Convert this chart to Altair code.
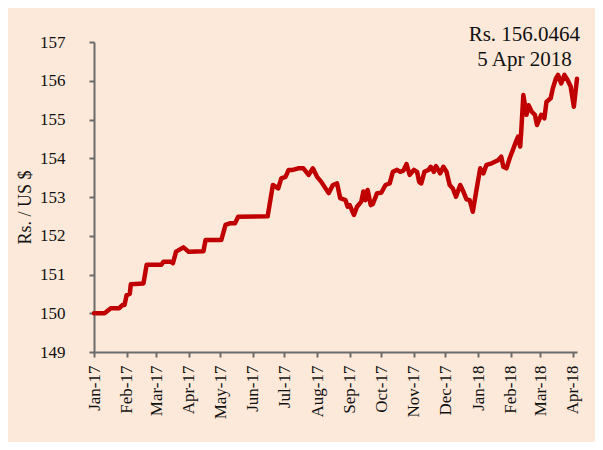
import altair as alt
import pandas as pd

# Daily Rs./US$ rate
dates = [
    "2017-01-01", "2017-01-11", "2017-01-17", "2017-01-25", "2017-01-28", "2017-01-30",
    "2017-02-01", "2017-02-04", "2017-02-05", "2017-02-17", "2017-02-20", "2017-03-06",
    "2017-03-08", "2017-03-15", "2017-03-17", "2017-03-20", "2017-03-27", "2017-04-01",
    "2017-04-15", "2017-04-17", "2017-05-02", "2017-05-06", "2017-05-10", "2017-05-15",
    "2017-05-18", "2017-06-15", "2017-06-20", "2017-06-25", "2017-06-28", "2017-07-02",
    "2017-07-05", "2017-07-09", "2017-07-14", "2017-07-19", "2017-07-24", "2017-07-28",
    "2017-08-01", "2017-08-05", "2017-08-12", "2017-08-16", "2017-08-20", "2017-08-23",
    "2017-08-28", "2017-08-30", "2017-09-01", "2017-09-05", "2017-09-08", "2017-09-12",
    "2017-09-14", "2017-09-16", "2017-09-18", "2017-09-21", "2017-09-23", "2017-09-27",
    "2017-10-01", "2017-10-05", "2017-10-09", "2017-10-12", "2017-10-16", "2017-10-19",
    "2017-10-22", "2017-10-25", "2017-10-28", "2017-11-01", "2017-11-04", "2017-11-06",
    "2017-11-08", "2017-11-11", "2017-11-15", "2017-11-17", "2017-11-20", "2017-11-22",
    "2017-11-26", "2017-11-29", "2017-12-02", "2017-12-05", "2017-12-08", "2017-12-11",
    "2017-12-15", "2017-12-18", "2017-12-21", "2017-12-24", "2017-12-27", "2017-12-31",
    "2018-01-03", "2018-01-06", "2018-01-09", "2018-01-14", "2018-01-17", "2018-01-20",
    "2018-01-23", "2018-01-25", "2018-01-28", "2018-01-31", "2018-02-03", "2018-02-06",
    "2018-02-08", "2018-02-10", "2018-02-11", "2018-02-13", "2018-02-16", "2018-02-18",
    "2018-02-21", "2018-02-24", "2018-02-26", "2018-03-02", "2018-03-05", "2018-03-07",
    "2018-03-11", "2018-03-13", "2018-03-16", "2018-03-18", "2018-03-21", "2018-03-24",
    "2018-03-27", "2018-03-30", "2018-04-02", "2018-04-05",
]
rates = [
    150.00, 150.00, 150.13, 150.13, 150.21, 150.21,
    150.47, 150.50, 150.75, 150.77, 151.25, 151.25,
    151.33, 151.33, 151.29, 151.59, 151.70, 151.59,
    151.60, 151.89, 151.89, 152.28, 152.32, 152.32,
    152.49, 152.50, 153.31, 153.22, 153.48, 153.52,
    153.70, 153.70, 153.74, 153.74, 153.57, 153.74,
    153.52, 153.39, 153.10, 153.31, 153.35, 152.97,
    152.92, 152.75, 152.79, 152.54, 152.75, 152.88,
    153.14, 152.92, 153.18, 152.79, 152.82, 153.10,
    153.11, 153.31, 153.35, 153.65, 153.70, 153.65,
    153.68, 153.85, 153.57, 153.70, 153.65, 153.39,
    153.35, 153.65, 153.70, 153.78, 153.65, 153.80,
    153.61, 153.78, 153.65, 153.31, 153.22, 153.01,
    153.31, 153.14, 152.94, 152.92, 152.62, 153.27,
    153.74, 153.61, 153.83, 153.87, 153.91, 153.95,
    154.04, 153.78, 153.74, 154.00, 154.21, 154.43,
    154.56, 154.30, 154.69, 155.63, 155.12, 155.37,
    155.20, 155.12, 154.86, 155.12, 155.03, 155.46,
    155.55, 155.80, 156.06, 156.15, 155.93, 156.15,
    156.02, 155.85, 155.33, 156.05,
]

y_ticks = [149, 150, 151, 152, 153, 154, 155, 156, 157]
y_title = "Rs. / US $"
annotation_lines = ["Rs. 156.0464", "5 Apr 2018"]
annotation_date = ["2018-02-14"]
annotation_value = [157.03]

FONT = "Liberation Serif"
AXIS_GREY = "#6b6b6b"

df = pd.DataFrame({"date": dates, "rate": rates})
ann = pd.DataFrame({"date": annotation_date, "rate": annotation_value})

x_scale = alt.Scale(
    type="utc",
    domain=[
        alt.DateTime(year=2017, month=1, date=1, utc=True),
        alt.DateTime(year=2018, month=4, date=5, utc=True),
    ],
)
y_scale = alt.Scale(domain=[149, 157], nice=False, zero=False)

x_axis = alt.Axis(
    title=None,
    format="%b-%y",
    tickCount={"interval": "month", "step": 1},
    labelAngle=270,
    labelFont=FONT,
    labelFontSize=17,
    labelColor="#111111",
    labelPadding=8,
    tickSize=5,
    tickColor=AXIS_GREY,
    tickWidth=2,
    domainColor=AXIS_GREY,
    domainWidth=2,
    grid=False,
    labelOverlap=False,
)
y_axis = alt.Axis(
    title=y_title,
    values=y_ticks,
    labelOverlap=False,
    labelFont=FONT,
    labelFontSize=17,
    labelColor="#111111",
    labelPadding=24,
    tickSize=5,
    tickColor=AXIS_GREY,
    tickWidth=2,
    domainColor=AXIS_GREY,
    domainWidth=2,
    grid=False,
    titleFont=FONT,
    titleFontSize=18,
    titleFontWeight="normal",
    titleColor="#111111",
    titleX=-60,
    titleY=165,
    titleAngle=270,
)

line = alt.Chart(df).mark_line(
    color="#C00000", strokeWidth=4.5, strokeJoin="round", strokeCap="round"
).encode(
    x=alt.X("date:T", scale=x_scale, axis=x_axis),
    y=alt.Y("rate:Q", scale=y_scale, axis=y_axis),
)

label = alt.Chart(ann).mark_text(
    text=annotation_lines,
    font=FONT,
    fontSize=21,
    lineHeight=25,
    align="center",
    baseline="alphabetic",
    color="#111111",
).encode(
    x=alt.X("date:T", scale=x_scale, axis=x_axis),
    y=alt.Y("rate:Q", scale=y_scale, axis=y_axis),
)

chart = alt.layer(line, label).properties(
    width=483,
    height=310,
    autosize=alt.AutoSizeParams(type="none"),
    padding={"left": 86, "top": 34, "right": 18, "bottom": 90},
    background="#FDE9D9",
).configure_view(stroke=None)

chart.save("out.html", embed_options={"renderer": "svg", "actions": False})
